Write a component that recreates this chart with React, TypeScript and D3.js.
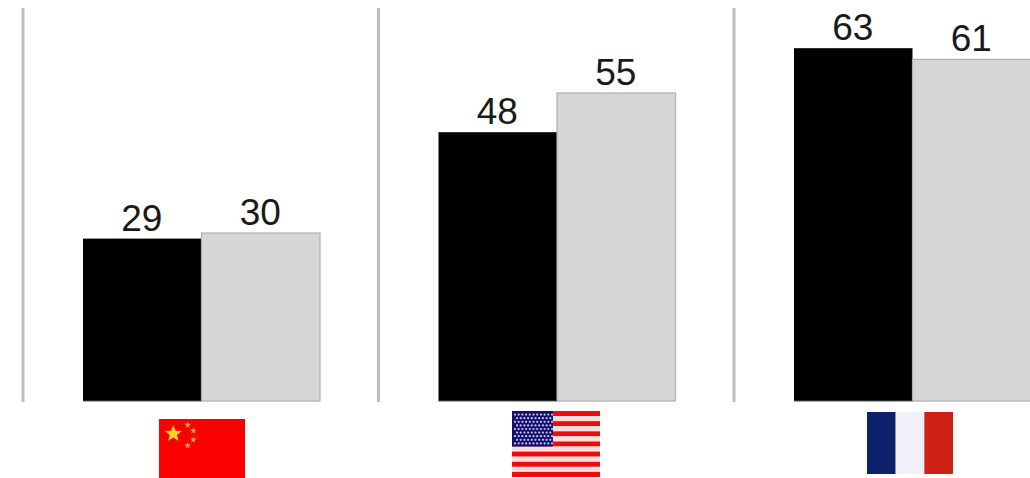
import React from "react";
import * as d3 from "d3";

const countries = ["China", "USA", "France"];
const seriesA = [29, 48, 63];
const seriesB = [30, 55, 61];
const flagColors = {
  china: ["#fb0000", "#ffd21a"],
  usa: ["#ea0c10", "#f9dcdc", "#12106c", "#c4c4f0"],
  france: ["#10226a", "#f0f0f6", "#cf2012"],
};

const width = 1030;
const height = 478;
const baseline = 401;
const barWidth = 118.5;
const barOffset = 60;
const labelFont = "'Liberation Sans', Arial, sans-serif";

const xGroup = d3.scalePoint<string>().domain(countries).range([23, 734]);
const y = d3.scaleLinear().domain([0, 63]).range([baseline, 48.2]);

// Five-pointed star path centred on the origin
function starPath(r: number) {
  const pts: [number, number][] = d3.range(10).map((i) => {
    const a = (i * Math.PI) / 5;
    const rad = i % 2 === 0 ? r : r * 0.42;
    return [rad * Math.sin(a), -rad * Math.cos(a)];
  });
  return d3.line()(pts) + "Z";
}

// Soft interior with crisp outer edges: the blurred artwork is clipped to the flag's box
function FlagFrame({ id, x, y: top, w, h, children }: any) {
  return (
    <g clipPath={`url(#${id})`}>
      <clipPath id={id}>
        <rect x={x} y={top} width={w} height={h} />
      </clipPath>
      <g filter="url(#flagSoft)">{children}</g>
    </g>
  );
}

function ChinaFlag() {
  const [red, gold] = flagColors.china;
  const sx = d3.scaleLinear().domain([0, 30]).range([159, 245]);
  const sy = d3.scaleLinear().domain([0, 20]).range([419, 478]);
  const small = [
    [10, 2],
    [12, 4],
    [12, 7],
    [10, 9],
  ];
  return (
    <FlagFrame id="clipChina" x={sx(0)} y={sy(0)} w={sx(30) - sx(0)} h={sy(20) - sy(0)}>
      <rect x={sx(0) - 4} y={sy(0) - 4} width={sx(30) - sx(0) + 8} height={sy(20) - sy(0) + 8} fill={red} />
      <path d={starPath(9)} transform={`translate(${sx(5)},${sy(5)})`} fill={gold} />
      {small.map(([a, b]) => (
        <path key={`${a}-${b}`} d={starPath(3.6)} transform={`translate(${sx(a)},${sy(b)})`} fill="#ff9a50" />
      ))}
    </FlagFrame>
  );
}

function UsaFlag() {
  const [red, white, navy, star] = flagColors.usa;
  const sx = d3.scaleLinear().domain([0, 1]).range([512, 600]);
  const sy = d3.scaleLinear().domain([0, 13]).range([411, 477]);
  const stripes = d3.range(-1, 14);
  const rows = d3.range(9);
  return (
    <FlagFrame id="clipUsa" x={sx(0)} y={sy(0)} w={sx(1) - sx(0)} h={sy(13) - sy(0)}>
      {stripes.map((i) => (
        <rect
          key={i}
          x={sx(0) - 4}
          y={sy(i)}
          width={sx(1) - sx(0) + 8}
          height={sy(i + 1) - sy(i)}
          fill={i === -1 || i === 13 || i % 2 === 0 ? red : white}
        />
      ))}
      <rect x={sx(0) - 4} y={sy(-1)} width={sx(0.465) - sx(0) + 4} height={sy(7) - sy(-1)} fill={navy} />
      {rows.map((r) =>
        d3.range(r % 2 === 0 ? 11 : 10).map((c) => (
          <circle
            key={`${r}-${c}`}
            cx={sx(0) + (r % 2 === 0 ? 3 : 5) + c * 3.7}
            cy={sy(0) + 3.6 + r * 3.6}
            r={1.1}
            fill={star}
          />
        ))
      )}
    </FlagFrame>
  );
}

function FranceFlag() {
  const sx = d3.scaleLinear().domain([0, 3]).range([867, 953]);
  return (
    <FlagFrame id="clipFrance" x={sx(0)} y={412} w={sx(3) - sx(0)} h={62}>
      {flagColors.france.map((c, i) => (
        <rect
          key={c}
          x={sx(i) - (i === 0 ? 4 : 0)}
          y={408}
          width={sx(i + 1) - sx(i) + (i === 1 ? 0 : 4)}
          height={70}
          fill={c}
        />
      ))}
    </FlagFrame>
  );
}

export default function App() {
  return (
    <svg
      width={width}
      height={height}
      viewBox={`0 0 ${width} ${height}`}
      style={{ position: "absolute", left: 0, top: 0, background: "#fff" }}
    >
      <defs>
        <filter id="flagSoft" x="-5%" y="-5%" width="110%" height="110%">
          <feGaussianBlur stdDeviation="0.6" />
        </filter>
      </defs>
      {countries.map((c, i) => {
        const x0 = xGroup(c)!;
        const xa = x0 + barOffset;
        const xb = xa + barWidth;
        return (
          <g key={c}>
            <line x1={x0} x2={x0} y1={8} y2={402} stroke="#bdbdbd" strokeWidth={3} />
            <rect x={xa} y={y(seriesA[i])} width={barWidth} height={baseline - y(seriesA[i])} fill="#000" />
            <rect
              x={xb}
              y={y(seriesB[i])}
              width={barWidth}
              height={baseline - y(seriesB[i])}
              fill="#d6d6d6"
              stroke="#afafaf"
              strokeWidth={1.2}
            />
            <line x1={xa} x2={xb} y1={baseline} y2={baseline} stroke="#555" strokeWidth={1} />
            <text
              x={xa + barWidth / 2 - 0.5}
              y={y(seriesA[i]) - 8}
              textAnchor="middle"
              fontFamily={labelFont}
              fontSize={37}
              fill="#1a1a1a"
            >
              {seriesA[i]}
            </text>
            <text
              x={xb + barWidth / 2 - 0.5}
              y={y(seriesB[i]) - 8}
              textAnchor="middle"
              fontFamily={labelFont}
              fontSize={37}
              fill="#1a1a1a"
            >
              {seriesB[i]}
            </text>
          </g>
        );
      })}
      <ChinaFlag />
      <UsaFlag />
      <FranceFlag />
    </svg>
  );
}
